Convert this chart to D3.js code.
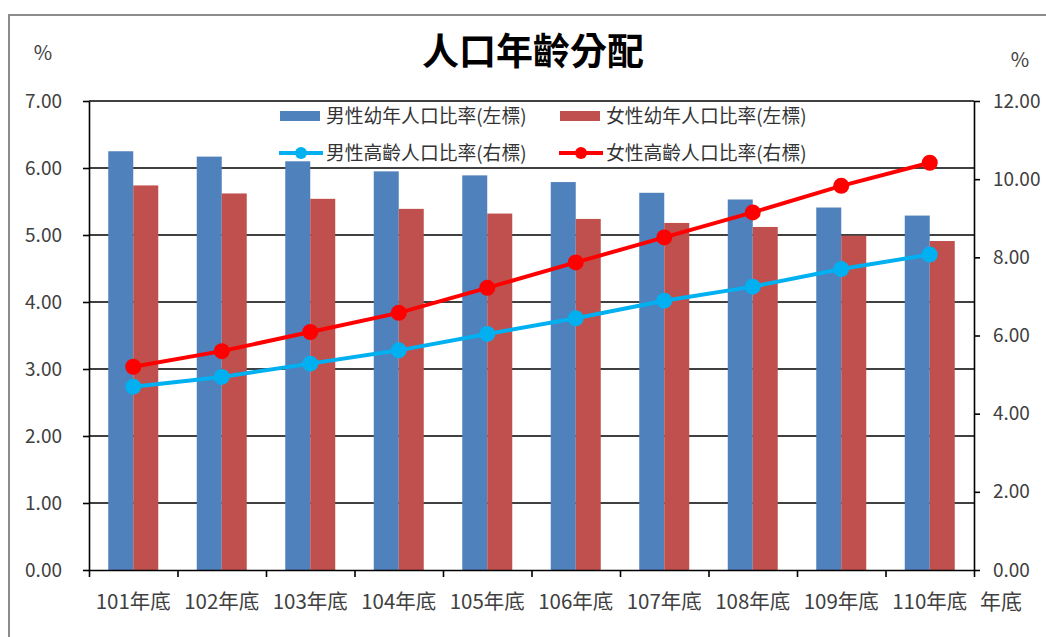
<!DOCTYPE html>
<html>
<head>
<meta charset="utf-8">
<script src="https://cdn.jsdelivr.net/npm/d3@7"></script>
<style>
  body { margin: 0; background: #fff; }
  text { font-family: "Noto Sans CJK TC", "Noto Sans", sans-serif; }
</style>
</head>
<body>
<div id="chart"></div>
<script>
const categories = ['101年底', '102年底', '103年底', '104年底', '105年底',
                    '106年底', '107年底', '108年底', '109年底', '110年底'];
const maleYouth = [6.25, 6.17, 6.10, 5.95, 5.89, 5.79, 5.63, 5.53, 5.41, 5.29];
const femaleYouth = [5.74, 5.62, 5.54, 5.39, 5.32, 5.24, 5.18, 5.12, 4.99, 4.91];
const maleElderly = [4.69, 4.94, 5.28, 5.62, 6.04, 6.44, 6.89, 7.25, 7.70, 8.07];
const femaleElderly = [5.20, 5.60, 6.09, 6.58, 7.22, 7.87, 8.51, 9.15, 9.83, 10.42];
const leftTicks = [0, 1, 2, 3, 4, 5, 6, 7];
const rightTicks = [0, 2, 4, 6, 8, 10, 12];
const barSeries = ['男性幼年人口比率(左標)', '女性幼年人口比率(左標)'];
const lineSeries = ['男性高齡人口比率(右標)', '女性高齡人口比率(右標)'];

const w = 1046, h = 637;
const plotLeft = 89, plotRight = 974, plotTop = 101, plotBottom = 570;
const barColors = ['#4F81BD', '#C0504D'];
const lineColors = ['#00B0F0', '#FF0000'];

const svg = d3.select('#chart')
              .append('svg')
              .attr('width', w)
              .attr('height', h);

svg.append('rect')
   .attr('width', w)
   .attr('height', h)
   .attr('fill', '#fff');

// outer chart border (only top and left show in the frame)
svg.append('rect')
   .attr('x', 9)
   .attr('y', 15)
   .attr('width', 1200)
   .attr('height', 800)
   .attr('fill', 'none')
   .attr('stroke', '#8c8c8c')
   .attr('stroke-width', 2);

const xScale = d3.scaleBand()
                 .domain(categories)
                 .range([plotLeft, plotRight]);
const xInner = d3.scaleBand()
                 .domain([0, 1])
                 .range([0, xScale.bandwidth()])
                 .paddingOuter(0.77);
const yLeft = d3.scaleLinear().domain([0, 7]).range([plotBottom, plotTop]);
const yRight = d3.scaleLinear().domain([0, 12]).range([plotBottom, plotTop]);

// gridlines
svg.append('g')
   .selectAll('line')
   .data(leftTicks.slice(1))
   .enter()
   .append('line')
   .attr('x1', plotLeft)
   .attr('x2', plotRight)
   .attr('y1', d => yLeft(d))
   .attr('y2', d => yLeft(d))
   .attr('stroke', '#000')
   .attr('stroke-width', 1.6);

// bars
const barData = [maleYouth, femaleYouth];
barData.forEach((vals, s) => {
  svg.append('g')
     .selectAll('rect')
     .data(vals)
     .enter()
     .append('rect')
     .attr('x', (d, i) => xScale(categories[i]) + xInner(s))
     .attr('y', d => yLeft(d))
     .attr('width', xInner.bandwidth())
     .attr('height', d => yLeft(0) - yLeft(d))
     .attr('fill', barColors[s]);
});

// axes
const styleAxis = (g, size) => {
  g.selectAll('path, line').attr('stroke', '#000').attr('stroke-width', 1.6);
  g.selectAll('text')
   .style('font-size', `${size || 19}px`)
   .style('fill', '#404040')
   .style('font-family', '"Noto Sans CJK TC", sans-serif');
};

svg.append('g')
   .attr('transform', `translate(${plotLeft}, 0)`)
   .call(d3.axisLeft(yLeft)
           .tickValues(leftTicks)
           .tickFormat(d3.format('.2f'))
           .tickSize(6)
           .tickSizeOuter(0)
           .tickPadding(21))
   .call(styleAxis);

svg.append('g')
   .attr('transform', `translate(${plotRight}, 0)`)
   .call(d3.axisRight(yRight)
           .tickValues(rightTicks)
           .tickFormat(d3.format('.2f'))
           .tickSize(6)
           .tickSizeOuter(0)
           .tickPadding(13))
   .call(styleAxis);

// category boundary ticks
const xEdge = d3.scaleLinear().domain([0, categories.length]).range([plotLeft, plotRight]);
svg.append('g')
   .attr('transform', `translate(0, ${plotBottom})`)
   .call(d3.axisBottom(xEdge)
           .ticks(categories.length)
           .tickFormat('')
           .tickSize(7)
           .tickSizeOuter(0))
   .call(styleAxis);

svg.append('g')
   .attr('transform', `translate(0, ${plotBottom})`)
   .call(d3.axisBottom(xScale).tickSize(0).tickPadding(24))
   .call(g => g.select('.domain').remove())
   .call(styleAxis, 20.5);

// lines
const lineData = [maleElderly, femaleElderly];
const line = d3.line()
               .x((d, i) => xScale(categories[i]) + xScale.bandwidth() / 2)
               .y(d => yRight(d));

lineData.forEach((vals, s) => {
  svg.append('path')
     .datum(vals)
     .attr('d', line)
     .attr('fill', 'none')
     .attr('stroke', lineColors[s])
     .attr('stroke-width', 4);

  svg.append('g')
     .selectAll('circle')
     .data(vals)
     .enter()
     .append('circle')
     .attr('cx', (d, i) => xScale(categories[i]) + xScale.bandwidth() / 2)
     .attr('cy', d => yRight(d))
     .attr('r', 8)
     .attr('fill', lineColors[s]);
});

// title and unit labels
svg.append('text')
   .attr('x', 533)
   .attr('y', 65)
   .attr('text-anchor', 'middle')
   .style('font-size', '37px')
   .style('font-weight', 'bold')
   .style('fill', '#000')
   .text('人口年齡分配');

svg.append('text')
   .attr('x', 43)
   .attr('y', 60)
   .attr('text-anchor', 'middle')
   .style('font-size', '20px')
   .style('fill', '#404040')
   .text('%');

svg.append('text')
   .attr('x', 1020)
   .attr('y', 67)
   .attr('text-anchor', 'middle')
   .style('font-size', '20px')
   .style('fill', '#404040')
   .text('%');

svg.append('text')
   .attr('x', 980)
   .attr('y', 609)
   .style('font-size', '21px')
   .style('fill', '#404040')
   .text('年底');

// legend
const legendCols = [280, 560];
const legend = svg.append('g');

barSeries.forEach((name, s) => {
  const x0 = legendCols[s];
  legend.append('rect')
        .attr('x', x0)
        .attr('y', 111)
        .attr('width', 40)
        .attr('height', 10)
        .attr('fill', barColors[s]);
  legend.append('text')
        .attr('x', x0 + 46)
        .attr('y', 116)
        .attr('dy', '0.35em')
        .style('font-size', '18.8px')
        .style('fill', '#333')
        .text(name);
});

lineSeries.forEach((name, s) => {
  const x0 = legendCols[s];
  legend.append('line')
        .attr('x1', x0 - 1)
        .attr('x2', x0 + 43)
        .attr('y1', 153)
        .attr('y2', 153)
        .attr('stroke', lineColors[s])
        .attr('stroke-width', 4);
  legend.append('circle')
        .attr('cx', x0 + 21)
        .attr('cy', 153)
        .attr('r', 6)
        .attr('fill', lineColors[s]);
  legend.append('text')
        .attr('x', x0 + 46)
        .attr('y', 153)
        .attr('dy', '0.35em')
        .style('font-size', '18.8px')
        .style('fill', '#333')
        .text(name);
});
</script>
</body>
</html>
